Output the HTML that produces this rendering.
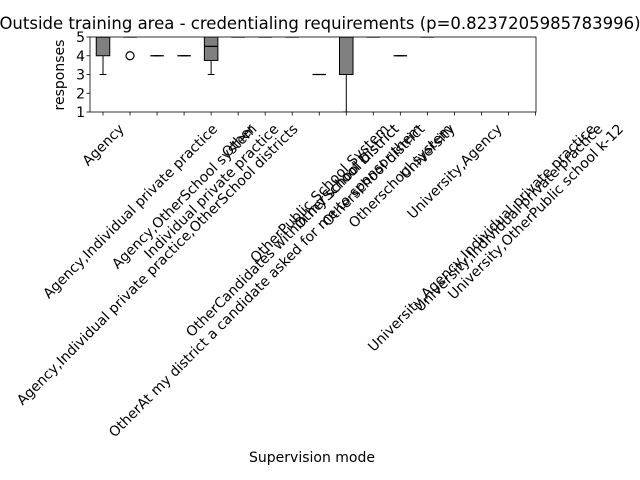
<!DOCTYPE html>
<html><head><meta charset="utf-8"><style>
body{margin:0;background:#fff}
svg{display:block;font-family:"DejaVu Sans","Liberation Sans",sans-serif}
</style></head><body>
<svg id="chart" width="640" height="480" viewBox="0 0 640 480">
<defs><clipPath id="clip"><rect x="90" y="37" width="446" height="75"/></clipPath></defs>
<text x="320" y="29" font-size="16.5" text-anchor="middle">Outside training area - credentialing requirements (p=0.8237205985783996)</text>
<text x="312" y="462" font-size="14" text-anchor="middle">Supervision mode</text>
<text transform="translate(64,75) rotate(-90)" font-size="14" text-anchor="middle">responses</text>
<g id="marks" clip-path="url(#clip)"></g>
<g id="axes"></g>
</svg>
<script>
const categories=["Agency","Agency,Individual private practice","Agency,Individual private practice,OtherSchool districts","Agency,OtherSchool system","Individual private practice","Other","OtherAt my district a candidate asked for me to sponsor them","OtherCandidates within my school district","OtherPublic School System","OtherSchool District","Otherschool district","Otherschool system","University","University,Agency","University,Agency,Individual private practice","University,Individual private practice","University,OtherPublic school k-12"];
const q1s=[4,5,4,4,3.75,5,5,5,3,3,5,4,5,null,null,null,null];
const medians=[5,5,4,4,4.5,5,5,5,3,5,5,4,5,null,null,null,null];
const q3s=[5,5,4,4,5,5,5,5,3,5,5,4,5,null,null,null,null];
const whiskLo=[3,5,4,4,3,5,5,5,3,1,5,4,5,null,null,null,null];
const whiskHi=[5,5,4,4,5,5,5,5,3,5,5,4,5,null,null,null,null];
const outliers=[[],[4],[],[],[],[],[],[],[],[],[],[],[],[],[],[],[]];
const yTicks=[1,2,3,4,5];

const NS="http://www.w3.org/2000/svg";
const L=90,R=536,T=37,B=112;
const xs=i=>103+i*(R-L)/16.5;
const ys=v=>B-(v-1)*(B-T)/4;
function mk(tag,attrs,parent){const e=document.createElementNS(NS,tag);for(const k in attrs)e.setAttribute(k,attrs[k]);parent.appendChild(e);return e;}
const marks=document.getElementById('marks'),axes=document.getElementById('axes');
const hw=6.75,cw=3.4;
categories.forEach((c,i)=>{
  if(medians[i]===null)return;
  const x=xs(i);
  const g=mk('g',{},marks);
  
  
  mk('line',{x1:x,x2:x,y1:ys(q1s[i]),y2:ys(whiskLo[i]),stroke:'#000','stroke-width':1},g);
  mk('line',{x1:x,x2:x,y1:ys(q3s[i]),y2:ys(whiskHi[i]),stroke:'#000','stroke-width':1},g);
  mk('line',{x1:x-cw,x2:x+cw,y1:ys(whiskLo[i]),y2:ys(whiskLo[i]),stroke:'#000','stroke-width':1},g);
  mk('line',{x1:x-cw,x2:x+cw,y1:ys(whiskHi[i]),y2:ys(whiskHi[i]),stroke:'#000','stroke-width':1},g);
  mk('rect',{x:x-hw,y:ys(q3s[i]),width:2*hw,height:Math.max(0,ys(q1s[i])-ys(q3s[i])),fill:'#808080',stroke:'#000','stroke-width':1},g);
  mk('line',{x1:x-hw,x2:x+hw,y1:ys(medians[i]),y2:ys(medians[i]),stroke:'#000','stroke-width':1.3},g);
  outliers[i].forEach(o=>{
    const c2=mk('circle',{cx:x,cy:ys(o),r:4,fill:'none',stroke:'#000','stroke-width':1.2},g);
    
    
  });
});
const frame=mk('rect',{x:L,y:T,width:R-L,height:B-T,fill:'none',stroke:'#000','stroke-width':0.8},axes);


yTicks.forEach(v=>{
  mk('line',{x1:L-3.5,x2:L,y1:ys(v),y2:ys(v),stroke:'#000','stroke-width':0.8},axes);
  const t=mk('text',{x:L-5,y:ys(v)+5,'font-size':14,'text-anchor':'end'},axes);
  t.textContent=v;
  
  
});
categories.forEach((c,i)=>{
  const x=xs(i);
  mk('line',{x1:x,x2:x,y1:B,y2:B+3.5,stroke:'#000','stroke-width':0.8},axes);
  const t=mk('text',{'font-size':14,'text-anchor':'middle'},axes);
  t.textContent=c;
  
  
  const w=t.getComputedTextLength();
  const half=(w+15)*0.7071/2;
  const cy=121+half;
  t.setAttribute('x',x);t.setAttribute('y',cy+5);
  t.setAttribute('transform','rotate(-45 '+x+' '+cy+')');
});
</script>
</body></html>
